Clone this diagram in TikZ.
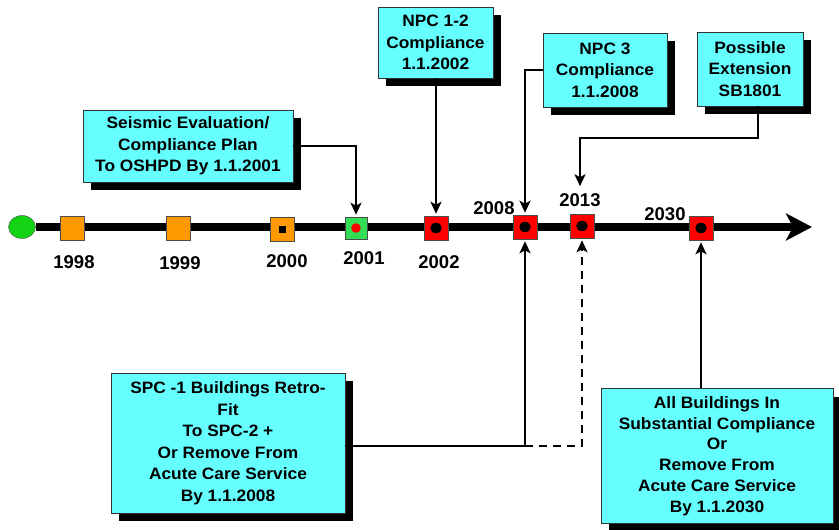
\documentclass[tikz,border=0pt]{standalone}
\usepackage{fontspec}
\setmainfont{Liberation Sans}
\newfontfamily\boxfont{Liberation Sans}[FakeStretch=1.05]
\usetikzlibrary{arrows.meta,shadows,shapes.geometric}
\definecolor{boxcyan}{RGB}{102,255,255}
\definecolor{mkorange}{RGB}{255,153,0}
\definecolor{mkred}{RGB}{255,0,0}
\definecolor{mkgreen}{RGB}{51,221,85}
\definecolor{startgreen}{RGB}{20,210,20}
\begin{document}
\begin{tikzpicture}[x=1pt,y=-1pt,
  infobox/.style={draw=black!80, line width=0.8pt, fill=boxcyan, align=center,
    font=\boxfont\bfseries\fontsize{16.5}{21.5}\selectfont, inner sep=0pt,
    drop shadow={shadow xshift=8pt, shadow yshift=-8pt, fill=black, opacity=1}},
  sq/.style={draw=black!70, line width=0.6pt, minimum size=24pt, inner sep=0pt},
  yearlbl/.style={font=\bfseries\fontsize{18.5}{22}\selectfont, inner sep=0pt},
  conn/.style={line width=2.2pt, -{Stealth[length=12pt,width=11pt,inset=3pt]}, shorten >=2pt},
  timeline/.style={line width=7.8pt, -{Stealth[length=26pt,width=27pt,inset=7pt]}}
]
\useasboundingbox (0,0) rectangle (839,530);

% timeline
\node[ellipse, draw=black!70, fill=startgreen, minimum width=27pt, minimum height=23pt, inner sep=0pt] (start) at (22,227) {};
\coordinate (tend) at (812,227);
\draw[timeline] (start.east) -- (tend);

% markers
\node[sq, fill=mkorange] (m1998) at (72,228) {};
\node[sq, fill=mkorange] (m1999) at (178,228) {};
\node[sq, fill=mkorange] (m2000) at (282,229) {};
\node[sq, fill=mkgreen, minimum size=22pt] (m2001) at (356,228) {};
\node[sq, fill=mkred] (m2002) at (436,228) {};
\node[sq, fill=mkred] (m2008) at (525,227) {};
\node[sq, fill=mkred] (m2013) at (582,226) {};
\node[sq, fill=mkred] (m2030) at (701,228) {};
\fill[black] ([xshift=-3.5pt,yshift=-3.5pt]m2000.center) rectangle ([xshift=3.5pt,yshift=3.5pt]m2000.center);
\fill[mkred] (m2001.center) circle[radius=4.8pt];
\foreach \m in {m2002,m2008,m2013,m2030}
  \fill[black] (\m.center) circle[x radius=5.8pt, y radius=5.2pt];

% year labels
\node[yearlbl] (l1998) at (74,262) {1998};
\node[yearlbl] (l1999) at (180,263) {1999};
\node[yearlbl] (l2000) at (287,261) {2000};
\node[yearlbl] (l2001) at (364,258) {2001};
\node[yearlbl] (l2002) at (439,262) {2002};
\node[yearlbl] (l2008) at (494,208) {2008};
\node[yearlbl] (l2013) at (580,200) {2013};
\node[yearlbl] (l2030) at (665,214) {2030};

% boxes
\node[infobox, minimum width=210pt, minimum height=72pt] (seismic) at (188,146)
  {Seismic Evaluation/\\Compliance Plan\\To OSHPD By 1.1.2001};
\node[infobox, minimum width=115pt, minimum height=71pt] (npc12) at (435.5,42.5)
  {NPC 1-2\\Compliance\\1.1.2002};
\node[infobox, minimum width=124pt, minimum height=74pt] (npc3) at (605,70)
  {NPC 3\\Compliance\\1.1.2008};
\node[infobox, minimum width=106pt, minimum height=74pt] (possible) at (750,69)
  {Possible\\Extension\\SB1801};
\node[infobox, minimum width=234pt, minimum height=140pt] (spc) at (228,443)
  {SPC -1 Buildings Retro-\\Fit\\To SPC-2 +\\Or Remove From\\Acute Care Service\\By 1.1.2008};
\node[infobox, minimum width=232pt, minimum height=135pt,
  font=\boxfont\bfseries\fontsize{16.5}{20.8}\selectfont] (allb) at (717,456)
  {All Buildings In\\Substantial Compliance\\Or\\Remove From\\Acute Care Service\\By 1.1.2030};

% connectors
\draw[conn] (seismic.east) -| (m2001.north);
\draw[conn] (npc12.south -| m2002.north) -- (m2002.north);
\draw[conn] (npc3.west) -| (m2008.north);
\coordinate (extbend) at (758,138);
\draw[conn] ([xshift=8pt]possible.south) -- (extbend) -| ([yshift=5pt]l2013.north);
\draw[conn] ([yshift=-3pt]spc.east) -| (m2008.south);
\draw[conn, dash pattern=on 8pt off 6pt] ([yshift=-3pt]spc.east -| m2008.south) -| (m2013.south);
\draw[conn] (allb.north -| m2030.south) -- (m2030.south);
\end{tikzpicture}
\end{document}
